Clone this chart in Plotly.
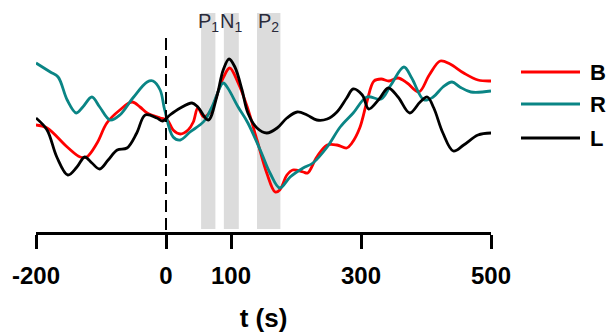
import plotly.graph_objects as go

# Time axis (ms after stimulus onset) and amplitudes for each condition
t_B = [-200, -183, -152, -132, -122, -106, -91, -71, -52, -40, -29, -9, 2, 11, 22, 34, 42, 49,
       58, 68, 72, 88, 98, 111, 125, 140, 155, 168, 175, 186, 195, 211, 218, 232, 248, 263,
       278, 286, 298, 309, 320, 331, 343, 357, 371, 389, 405, 422, 437, 458, 480, 500]
amp_B = [1.0, 0.7, -1.2, -2.2, -2.2, -0.8, 1.2, 2.5, 3.3, 2.8, 2.2, 1.7, 1.5, 0.5, 0.1, 0.5, 1.3, 2.7,
         1.8, 2.3, 2.8, 5.7, 6.7, 5.2, 2.8, -0.5, -3.8, -5.7, -5.5, -4.0, -3.5, -3.7, -3.8, -2.2, -1.0, -1.0,
         -1.3, -0.8, 0.7, 3.3, 5.4, 5.6, 5.4, 5.7, 5.2, 4.3, 6.0, 7.4, 7.1, 6.2, 5.5, 5.4]

t_R = [-200, -178, -166, -152, -138, -128, -114, -102, -86, -71, -51, -29, -20, -9, -2, 11, 22,
       37, 52, 60, 72, 88, 95, 111, 126, 145, 160, 175, 191, 211, 226, 248, 268, 288, 309,
       331, 346, 366, 378, 397, 411, 426, 440, 452, 469, 500]
amp_R = [7.2, 6.3, 5.8, 3.5, 2.2, 2.8, 3.8, 2.8, 1.5, 2.0, 3.7, 5.3, 5.4, 4.5, 2.5, -0.2, -0.5,
         0.3, 1.0, 1.5, 3.0, 5.2, 4.7, 2.8, 1.2, -1.5, -3.8, -5.3, -4.2, -3.3, -2.8, -1.2, 0.8, 2.2, 3.8,
         3.6, 5.0, 6.8, 5.7, 3.5, 3.8, 4.8, 5.3, 4.8, 4.3, 4.4]

t_L = [-200, -183, -168, -151, -137, -125, -114, -102, -89, -75, -60, -45, -32, -14, -5, 6, 22,
       40, 49, 65, 78, 88, 97, 106, 117, 126, 140, 155, 171, 186, 202, 217, 232, 248, 263,
       278, 288, 302, 312, 328, 342, 357, 375, 391, 402, 412, 426, 442, 458, 480, 500]
amp_L = [1.7, 0.5, -2.2, -4.0, -3.2, -2.2, -2.8, -3.4, -2.5, -1.5, -1.3, 0.2, 2.0, 1.7, 1.4, 2.0, 2.7,
         3.2, 2.8, 1.5, 3.8, 6.5, 7.6, 6.8, 4.5, 2.2, 0.7, 0.2, 0.7, 1.7, 2.3, 2.0, 1.5, 1.6, 2.3,
         3.7, 4.6, 4.0, 2.6, 3.6, 4.7, 3.8, 2.2, 3.3, 3.8, 2.7, 0.2, -1.6, -1.0, 0.0, 0.2]

series_names = ["B", "R", "L"]
series_colors = ["#ff0000", "#0a8585", "#000000"]

# Component windows (ms)
windows = [("P", "1", 54, 76), ("N", "1", 89, 112), ("P", "2", 140, 176)]

x_ticks = [-200, 0, 100, 300, 500]
y_range = [-9.7, 12.5]

FONT = "Liberation Sans, Arial, sans-serif"

fig = go.Figure()

for name, tt, aa, col in zip(series_names, [t_B, t_R, t_L], [amp_B, amp_R, amp_L], series_colors):
    fig.add_trace(go.Scatter(
        x=tt, y=aa, mode="lines", name=name,
        line=dict(color=col, width=2.8, shape="spline", smoothing=1.0),
        showlegend=False,
    ))

shapes = []
annotations = []
for letter, sub, t0, t1 in windows:
    shapes.append(dict(type="rect", xref="x", yref="y", x0=t0, x1=t1, y0=-9.4, y1=12.2,
                       fillcolor="#dcdcdc", line=dict(width=0), layer="below"))
    annotations.append(dict(x=(t0 + t1) / 2, y=1.01, xref="x", yref="paper", yanchor="top",
                            text=f"{letter}<sub>{sub}</sub>", showarrow=False,
                            font=dict(family=FONT, size=20, color="#2a2a3a")))

# Stimulus onset marker
shapes.append(dict(type="line", xref="x", yref="y", x0=0, x1=0, y0=9.7, y1=-9.7,
                   line=dict(color="black", width=2, dash="12px,6px")))

# Hand-built legend to the right of the plot
legend_y = [72, 104, 138]
for name, col, py in zip(series_names, series_colors, legend_y):
    yy = 1 - (py - 10) / 222
    shapes.append(dict(type="line", xref="paper", yref="paper",
                       x0=(521 - 36) / 455, x1=(580 - 36) / 455, y0=yy, y1=yy,
                       line=dict(color=col, width=3)))
    annotations.append(dict(x=(588 - 36) / 455, y=yy, xref="paper", yref="paper",
                            xanchor="left", yanchor="middle", text=f"<b>{name}</b>",
                            showarrow=False, font=dict(family=FONT, size=22, color="black")))

fig.update_layout(
    width=607, height=333,
    margin=dict(l=36, r=116, t=10, b=101, autoexpand=False),
    paper_bgcolor="white", plot_bgcolor="white",
    shapes=shapes, annotations=annotations,
    xaxis=dict(
        range=[-200, 500], tickvals=x_ticks, ticktext=[str(v) for v in x_ticks],
        showgrid=False, zeroline=False, automargin=False,
        showline=True, linecolor="black", linewidth=3,
        ticks="outside", ticklen=14, tickwidth=3, tickcolor="black",
        tickfont=dict(family=FONT, size=24, color="black", weight="bold"),
        ticklabelstandoff=6,
        title=dict(text="t (s)", standoff=26,
                   font=dict(family=FONT, size=26, color="black", weight="bold")),
    ),
    yaxis=dict(range=y_range, visible=False, showgrid=False, zeroline=False),
)

fig.write_html("out.html")
